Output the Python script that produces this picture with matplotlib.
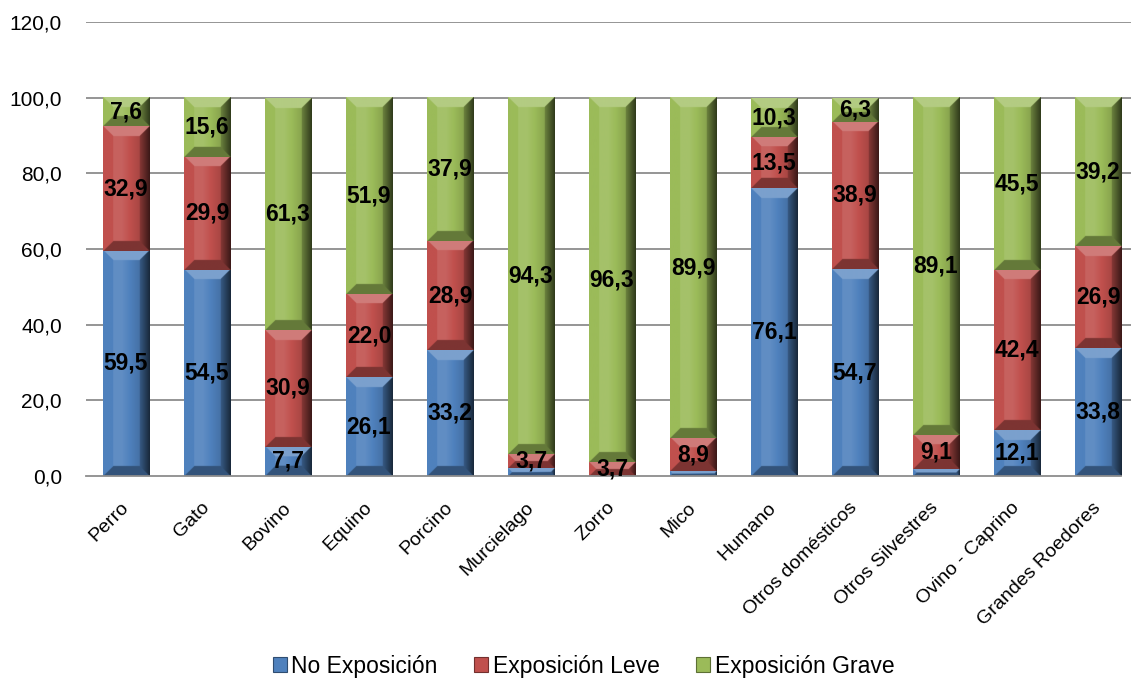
import numpy as np
import matplotlib
matplotlib.use("Agg")
import matplotlib.pyplot as plt
from matplotlib import font_manager
from matplotlib.colors import to_rgb
from matplotlib.patches import Patch

categorias = ["Perro", "Gato", "Bovino", "Equino", "Porcino", "Murcielago", "Zorro",
              "Mico", "Humano", "Otros domésticos", "Otros Silvestres",
              "Ovino - Caprino", "Grandes Roedores"]
no_exposicion = [59.5, 54.5, 7.7, 26.1, 33.2, 2.0, 0.0, 1.2, 76.1, 54.7, 1.8, 12.1, 33.8]
exposicion_leve = [32.9, 29.9, 30.9, 22.0, 28.9, 3.7, 3.7, 8.9, 13.5, 38.9, 9.1, 42.4, 26.9]
exposicion_grave = [7.6, 15.6, 61.3, 51.9, 37.9, 94.3, 96.3, 89.9, 10.3, 6.3, 89.1, 45.5, 39.2]
series = ["No Exposición", "Exposición Leve", "Exposición Grave"]
colores = ["#4F81BD", "#C0504D", "#9BBB59"]
y_ticks = [0, 20, 40, 60, 80, 100, 120]


def fuente(nombres):
    for n in nombres:
        try:
            font_manager.findfont(font_manager.FontProperties(family=n),
                                  fallback_to_default=False)
            return n
        except ValueError:
            pass
    return "DejaVu Sans"


familia = fuente(["Liberation Sans Narrow", "Arial Narrow", "Liberation Sans"])
plt.rcParams["font.family"] = [familia, "DejaVu Sans"]


def textura(color, w, h, b):
    # relleno con bisel: cara central con degradado y cuatro trapecios en los bordes
    base = np.array(to_rgb(color))
    yy, xx = np.mgrid[0:h, 0:w] + 0.5
    dl, dr, dt, db = xx, w - xx, yy, h - yy
    f = 0.10 - 0.35 * np.clip((xx / w - 0.40) / 0.60, 0, 1)
    dmin = np.minimum.reduce([dl, dr, dt, db])
    borde = dmin < b
    f = np.where(borde & (dt == dmin), 0.25, f)
    f = np.where(borde & (db == dmin), -0.35, f)
    f = np.where(borde & (dl == dmin), 0.0, f)
    f = np.where(borde & (dr == dmin), -0.30 - 0.40 * (1 - dr / b), f)
    f = f[..., None]
    rgb = np.where(f > 0, base + (1 - base) * f, base * (1 + f))
    return np.clip(rgb, 0, 1)


fig = plt.figure(figsize=(11.31, 6.81), dpi=100)
ax = fig.add_axes([85.5 / 1131, 1 - 476 / 681, (1131 - 85.5) / 1131, 454 / 681])
x = np.arange(len(categorias))
xmax = (1131 - 126) / 81
ax.set_xlim(-0.5, xmax)
ax.set_ylim(0, 120)

for yt in y_ticks[1:]:
    ax.axhline(yt, color="#8c8c8c", lw=1.3, zorder=0)

ancho = 0.57
acum = np.zeros(len(categorias))
for nombre, valores, col in zip(series, [no_exposicion, exposicion_leve, exposicion_grave], colores):
    valores = np.array(valores)
    barras = ax.bar(x, valores, width=ancho, bottom=acum, color=col, edgecolor="none", zorder=2)
    for rect, v in zip(barras, valores):
        if v <= 0:
            continue
        x0, y0 = rect.get_x(), rect.get_y()
        w, h = rect.get_width(), rect.get_height()
        p0 = ax.transData.transform((x0, y0))
        p1 = ax.transData.transform((x0 + w, y0 + h))
        wp = max(int(round((p1[0] - p0[0]) * 2)), 2)
        hp = max(int(round((p1[1] - p0[1]) * 2)), 2)
        img = textura(col, wp, hp, min(20, hp / 2, wp / 2))
        ax.imshow(img, extent=(x0, x0 + w, y0, y0 + h), aspect="auto",
                  interpolation="bilinear", zorder=3, origin="upper")
        if v >= 3:
            ax.text(rect.get_x() + w / 2, y0 + h / 2, f"{v:.1f}".replace(".", ","),
                    ha="center", va="center", fontsize=16.5, fontweight="bold",
                    color="black", zorder=5)
    acum += valores

ax.set_xlim(-0.5, xmax)
ax.set_ylim(0, 120)
ax.set_aspect("auto")

ax.set_yticks(y_ticks)
ax.set_yticklabels([f"{t:.1f}".replace(".", ",") for t in y_ticks], fontsize=15)
ax.tick_params(axis="y", length=0, pad=17)
ax.set_xticks(x)
ax.set_xticklabels(categorias, rotation=45, ha="right", va="center",
                   rotation_mode="anchor", fontsize=14)
ax.tick_params(axis="x", length=0, pad=21)

for s in ["top", "right", "left"]:
    ax.spines[s].set_visible(False)
ax.spines["bottom"].set_color("#8c8c8c")
ax.spines["bottom"].set_linewidth(1.3)
ax.spines["bottom"].set_bounds(-0.5, (1121 - 126) / 81)
ax.spines["bottom"].set_zorder(4)

handles = [Patch(facecolor=c, edgecolor=np.array(to_rgb(c)) * 0.6, lw=0.8) for c in colores]
fig.legend(handles, series, loc="center", bbox_to_anchor=(0.516, 0.022),
           ncol=3, frameon=False, fontsize=16.5, handlelength=0.6, handleheight=0.6,
           handletextpad=0.2, columnspacing=1.6)

fig.savefig("out.png", dpi=100)
